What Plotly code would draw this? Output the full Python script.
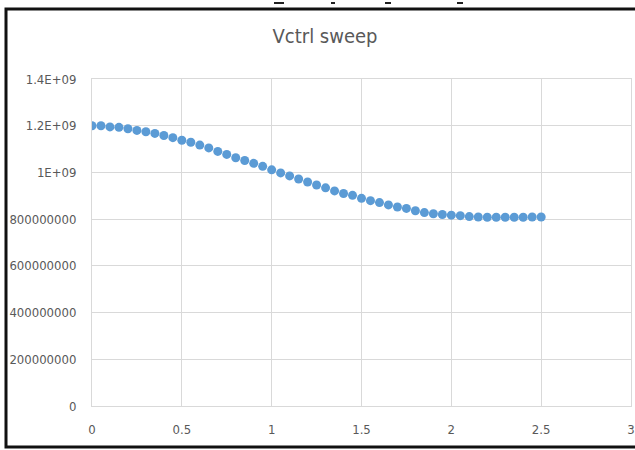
import plotly.graph_objects as go

# Data
vctrl = [i * 0.05 for i in range(51)]
freq_e9 = [1.200, 1.200, 1.195, 1.193, 1.187, 1.180, 1.174, 1.167, 1.158, 1.149,
           1.138, 1.129, 1.117, 1.105, 1.090, 1.077, 1.063, 1.051, 1.039, 1.026,
           1.011, 0.998, 0.985, 0.972, 0.959, 0.946, 0.934, 0.921, 0.910, 0.902,
           0.889, 0.879, 0.871, 0.861, 0.852, 0.846, 0.836, 0.828, 0.823, 0.820,
           0.817, 0.815, 0.811, 0.809, 0.808, 0.808, 0.808, 0.808, 0.808, 0.809,
           0.809]
freq = [v * 1e9 for v in freq_e9]

y_tickvals = [0, 2e8, 4e8, 6e8, 8e8, 1e9, 1.2e9, 1.4e9]
y_ticktext = ["0", "200000000", "400000000", "600000000", "800000000",
              "1E+09", "1.2E+09", "1.4E+09"]
x_tickvals = [0, 0.5, 1, 1.5, 2, 2.5, 3]
x_ticktext = ["0", "0.5", "1", "1.5", "2", "2.5", "3"]

W, H = 635, 450
ML, MR, MT, MB = 92, 4, 79, 44
PW, PH = W - ML - MR, H - MT - MB

FONT = "DejaVu Sans Condensed, Liberation Sans Narrow, sans-serif"
GRAY = "#595959"
GRID = "#d9d9d9"

def px(x):
    return (x - ML) / PW

def py(y):
    return (H - MB - y) / PH

fig = go.Figure()
fig.add_trace(go.Scatter(
    x=vctrl, y=freq, mode="markers",
    marker=dict(color="#5b9bd5", size=9, line=dict(width=0)),
    showlegend=False,
))

shapes = [
    # outer black frame of the picture; its right side lies outside the canvas
    dict(type="rect", xref="paper", yref="paper",
         x0=px(6), x1=px(760), y0=py(9), y1=py(447),
         line=dict(color="#111111", width=3), fillcolor="rgba(0,0,0,0)", layer="above"),
]
# small crop artifacts at the very top
for a, b in [(274, 284), (331, 335), (385, 391), (457, 463)]:
    shapes.append(dict(type="line", xref="paper", yref="paper",
                       x0=px(a), x1=px(b), y0=py(3), y1=py(3),
                       line=dict(color="#222222", width=2)))

fig.update_layout(
    width=W, height=H,
    margin=dict(l=ML, r=MR, t=MT, b=MB, pad=0, autoexpand=False),
    paper_bgcolor="white", plot_bgcolor="white",
    title=dict(text="Vctrl sweep", x=325 / W, xanchor="center", xref="container",
               y=1 - 36 / H, yanchor="middle", yref="container",
               font=dict(family=FONT, size=20, color=GRAY)),
    xaxis=dict(range=[0, 3], tickvals=x_tickvals, ticktext=x_ticktext,
               showgrid=True, gridcolor=GRID, gridwidth=1, automargin=False,
               zeroline=False, showline=True, linecolor=GRID, linewidth=1, mirror=True,
               ticks="outside", ticklen=11, tickcolor="rgba(0,0,0,0)",
               tickfont=dict(family=FONT, size=13, color=GRAY)),
    yaxis=dict(range=[0, 1.4e9], tickvals=y_tickvals, ticktext=y_ticktext,
               showgrid=True, gridcolor=GRID, gridwidth=1, automargin=False,
               zeroline=False, showline=True, linecolor=GRID, linewidth=1, mirror=True,
               ticks="outside", ticklen=12, tickcolor="rgba(0,0,0,0)",
               tickfont=dict(family=FONT, size=13, color=GRAY)),
    shapes=shapes,
)

fig.write_html("out.html")
